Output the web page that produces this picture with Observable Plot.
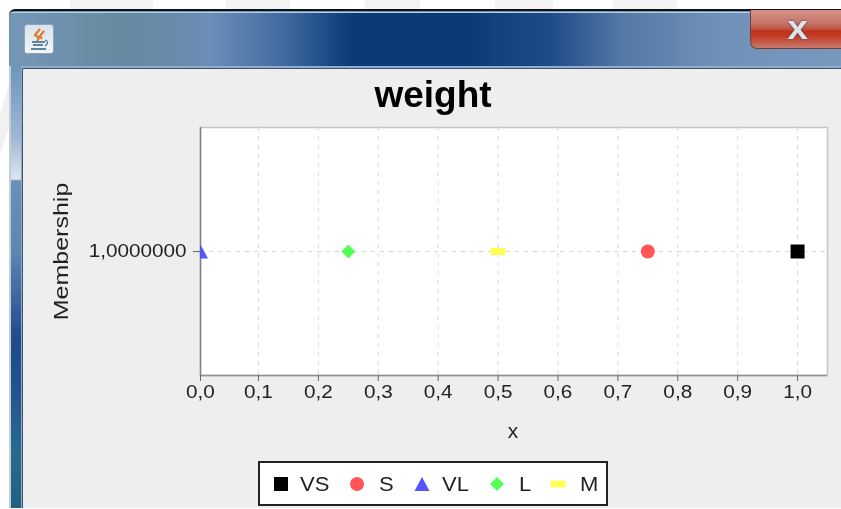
<!DOCTYPE html>
<html><head><meta charset="utf-8">
<script src="https://cdn.jsdelivr.net/npm/d3@7"></script>
<script src="https://cdn.jsdelivr.net/npm/@observablehq/plot@0.6"></script>
<style>
html,body{margin:0;padding:0;background:#fff;overflow:hidden}
#stage{position:relative;width:841px;height:509px;overflow:hidden;font-family:"Liberation Sans",sans-serif;filter:blur(.45px)}
.abs{position:absolute}
.stripe{top:-2px;height:11px;background:#f3f3f3}
#wm{left:0;top:85px;width:9px;height:70px;background:#f1f1f1;clip-path:polygon(100% 0,100% 60%,0 100%,0 40%)}
#window{left:9px;top:9px;width:840px;height:499px;background:#6d94bf;border-top:2px solid #111;border-radius:6px 0 0 0;box-sizing:border-box}
#bar{left:11px;top:12px;width:830px;height:53px;background:linear-gradient(90deg,#7696b7 0%,#65899f 14%,#6b8db8 24%,#3f6aa0 33%,#0c3a78 41%,#0c3a78 55%,#1f4c88 65%,#557aa6 74%,#7090b8 85%,#7898be 100%);border-top:1px solid #b9cde0;border-bottom:1px solid #8fb0d2}
#leftedge{left:11px;top:66px;width:10px;height:442px;background:linear-gradient(180deg,#6d94bf 0%,#9db8d4 16%,#d8e3ec 25%,#d8e3ec 25.6%,#6a90b8 26%,#5c86b3 42%,#1f4a8c 62%,#22528f 72%,#2a6a90 88%,#20607f 100%)}
#leftline{left:9px;top:66px;width:2px;height:442px;background:#c4ccd4}
#content{left:22px;top:68px;width:819px;height:440px;background:#eeeeee;border-top:1px solid #3d5370;border-left:1px solid #3d5370;box-sizing:border-box;box-shadow:-1px -1px 0 #90a8c0;border-radius:2px 0 0 0}
#close{left:750px;top:10px;width:91px;height:39px;background:linear-gradient(180deg,#d79088 0%,#c97a70 30%,#bf5a4c 48%,#c23018 56%,#c23b25 68%,#c87a6c 100%);border:1px solid #6b4038;border-top:none;border-right:none;border-radius:0 0 0 7px;box-sizing:border-box}
#closex{left:750px;top:10px;width:91px;text-align:center;font:bold 34px/34px "Liberation Sans",sans-serif;color:#dfe3ea;padding-left:4px;box-sizing:border-box;text-shadow:0 0 2px #444,0 0 1px #444;transform:scaleX(1.1)}
#icon{left:24px;top:24px;width:30px;height:30px;background:linear-gradient(180deg,#d8e2ec,#f4f6f8);border:1px solid #8ba4bb;box-sizing:border-box;border-radius:3px;overflow:hidden}
#title{left:22px;width:822px;top:73px;text-align:center;font:bold 37px/44px "Liberation Sans",sans-serif;color:#000}
#chart{left:0;top:0}
#legend{left:258px;top:461px;width:350px;height:45px;background:#fff;border:2px solid #222;box-sizing:border-box;display:flex;align-items:center;padding-left:13px;font:20px/24px "Liberation Sans",sans-serif;color:#222}
#legend svg{display:block;flex:none}
#legend .name{display:inline-block;white-space:nowrap;transform-origin:left center}
</style></head>
<body>
<div id="stage">
  <div class="abs" id="wm"></div>
  <div class="abs" id="window"></div>
  <div class="abs" id="bar"></div>
  <div class="abs" id="leftline"></div>
  <div class="abs" id="leftedge"></div>
  <div class="abs" id="content"></div>
  <div class="abs" id="close"></div>
  <div class="abs" id="closex">x</div>
  <div class="abs" id="icon"><svg width="28" height="28" viewBox="0 0 28 28"><path d="M15 4 L10 10 L14 13 L12 16 M19 6 L15 11 L17 14" fill="none" stroke="#e07a2a" stroke-width="2.2"/><path d="M7 17 H20 M8 20 H18 M6 24 H21" stroke="#5f83a3" stroke-width="2"/><path d="M20 15 q5 2 0 6" fill="none" stroke="#5f83a3" stroke-width="1.5"/></svg></div>
  <div class="abs" id="title">weight</div>
  <div class="abs" id="chart"></div>
  <div class="abs" id="legend"></div>
</div>
<script>
const chartTitle = "weight";
const seriesNames = ["VS", "S", "VL", "L", "M"];
const seriesX = [1.0, 0.75, 0.0, 0.25, 0.5];
const seriesY = [1, 1, 1, 1, 1];
const seriesColors = ["#000000", "#ff5555", "#5555ff", "#55ff55", "#ffff55"];
const xTicks = [0, 0.1, 0.2, 0.3, 0.4, 0.5, 0.6, 0.7, 0.8, 0.9, 1.0];
const yTicks = [1];
const xDomain = [0.0032, 1.05];
const yDomain = [0, 2];

// Pale watermark bands behind the window
[[70,153],[226,290],[365,420],[495,553],[613,677]].forEach(([a,b])=>{
  const d=document.createElement("div");
  d.className="abs stripe";
  d.style.left=a+"px"; d.style.width=(b-a)+"px";
  document.getElementById("stage").prepend(d);
});

const shapes = {
  VS: {draw(c){c.rect(-7,-7,14,14);}},
  S:  {draw(c){c.moveTo(7,0);c.arc(0,0,7,0,2*Math.PI);}},
  VL: {draw(c){c.moveTo(0,-7);c.lineTo(7.5,7);c.lineTo(-7.5,7);c.closePath();}},
  L:  {draw(c){c.moveTo(0,-7);c.lineTo(7,0);c.lineTo(0,7);c.lineTo(-7,0);c.closePath();}},
  M:  {draw(c){c.rect(-7.5,-3.5,15,7);}}
};
const rows = seriesNames.map((name,i)=>({name,x:seriesX[i],y:seriesY[i],color:seriesColors[i]}));
const axisStyle = {fontFamily:"Liberation Sans, sans-serif", fontSize:"18px", fill:"#222"};

const plot = Plot.plot({
  width:841, height:509,
  marginLeft:200, marginRight:14, marginTop:127, marginBottom:134,
  style:{background:"transparent", overflow:"visible"},
  x:{domain:xDomain, clamp:true, label:null},
  y:{domain:yDomain, label:null},
  marks:[
    Plot.frame({fill:"white", stroke:"#c4c4c4", strokeWidth:1.5}),
    Plot.gridX(xTicks,{stroke:"#d8d8d8", strokeOpacity:1, strokeDasharray:"4 5"}),
    Plot.gridY(yTicks,{stroke:"#d8d8d8", strokeOpacity:1, strokeDasharray:"4 5"}),
    Plot.ruleX([xDomain[0]],{stroke:"#808080", strokeWidth:1.5}),
    Plot.ruleY([yDomain[0]],{stroke:"#909090", strokeWidth:1.5}),
    Plot.axisX({ticks:xTicks, tickSize:6, tickPadding:4, stroke:"#666",
      tickFormat:d=>d3.format(".1f")(d).replace(".",","), label:null, ...axisStyle}),
    Plot.axisY({ticks:yTicks, tickSize:7, tickPadding:7, stroke:"#666",
      tickFormat:d=>d3.format(".7f")(d).replace(".",","), label:null, ...axisStyle}),
    Plot.text(["x"],{frameAnchor:"bottom", dx:-1, dy:62, fontFamily:"Liberation Sans, sans-serif", fontSize:21, fill:"#222"}),
    Plot.text(["Membership"],{frameAnchor:"left", dx:-139, rotate:-90, textAnchor:"middle",
      fontFamily:"Liberation Sans, sans-serif", fontSize:20, fill:"#222"}),
    ...rows.map(r=>Plot.dot([r],{x:"x",y:"y",symbol:shapes[r.name],r:7,fill:r.color,stroke:"none",clip:"frame"}))
  ]
});
document.getElementById("chart").append(plot);
document.getElementById("title").textContent = chartTitle;

// The reference's text is stretched along its baseline: widen glyphs to match.
d3.select(plot).selectAll("text").each(function(){
  const t=this.textContent;
  if(!t) return;
  const len=this.getComputedTextLength();
  const f = t==="Membership" ? 1.25 : t==="x" ? 1 : 1.15;
  if(f!==1){ this.setAttribute("textLength",len*f); this.setAttribute("lengthAdjust","spacingAndGlyphs"); }
});

const legend = d3.select("#legend");
const gaps = {VS:12, S:15, VL:13, L:15, M:15};
const after = {VS:21, S:21, VL:21, L:20, M:0};
const stretch = 1.1;
rows.forEach(r=>{
  const path = d3.path();
  shapes[r.name].draw(path);
  legend.append("svg").attr("width",16).attr("height",16).attr("viewBox","-8 -8 16 16")
    .append("path").attr("d",path.toString()).attr("fill",r.color);
  const s=legend.append("span").attr("class","name")
    .style("margin-left",(gaps[r.name]-1)+"px").style("margin-right",(after[r.name]-1)+"px").text(r.name);
  const n=s.node(), w=n.getBoundingClientRect().width;
  s.style("width",(w*stretch)+"px").style("transform",`scaleX(${stretch})`);
});
</script>
</body></html>
